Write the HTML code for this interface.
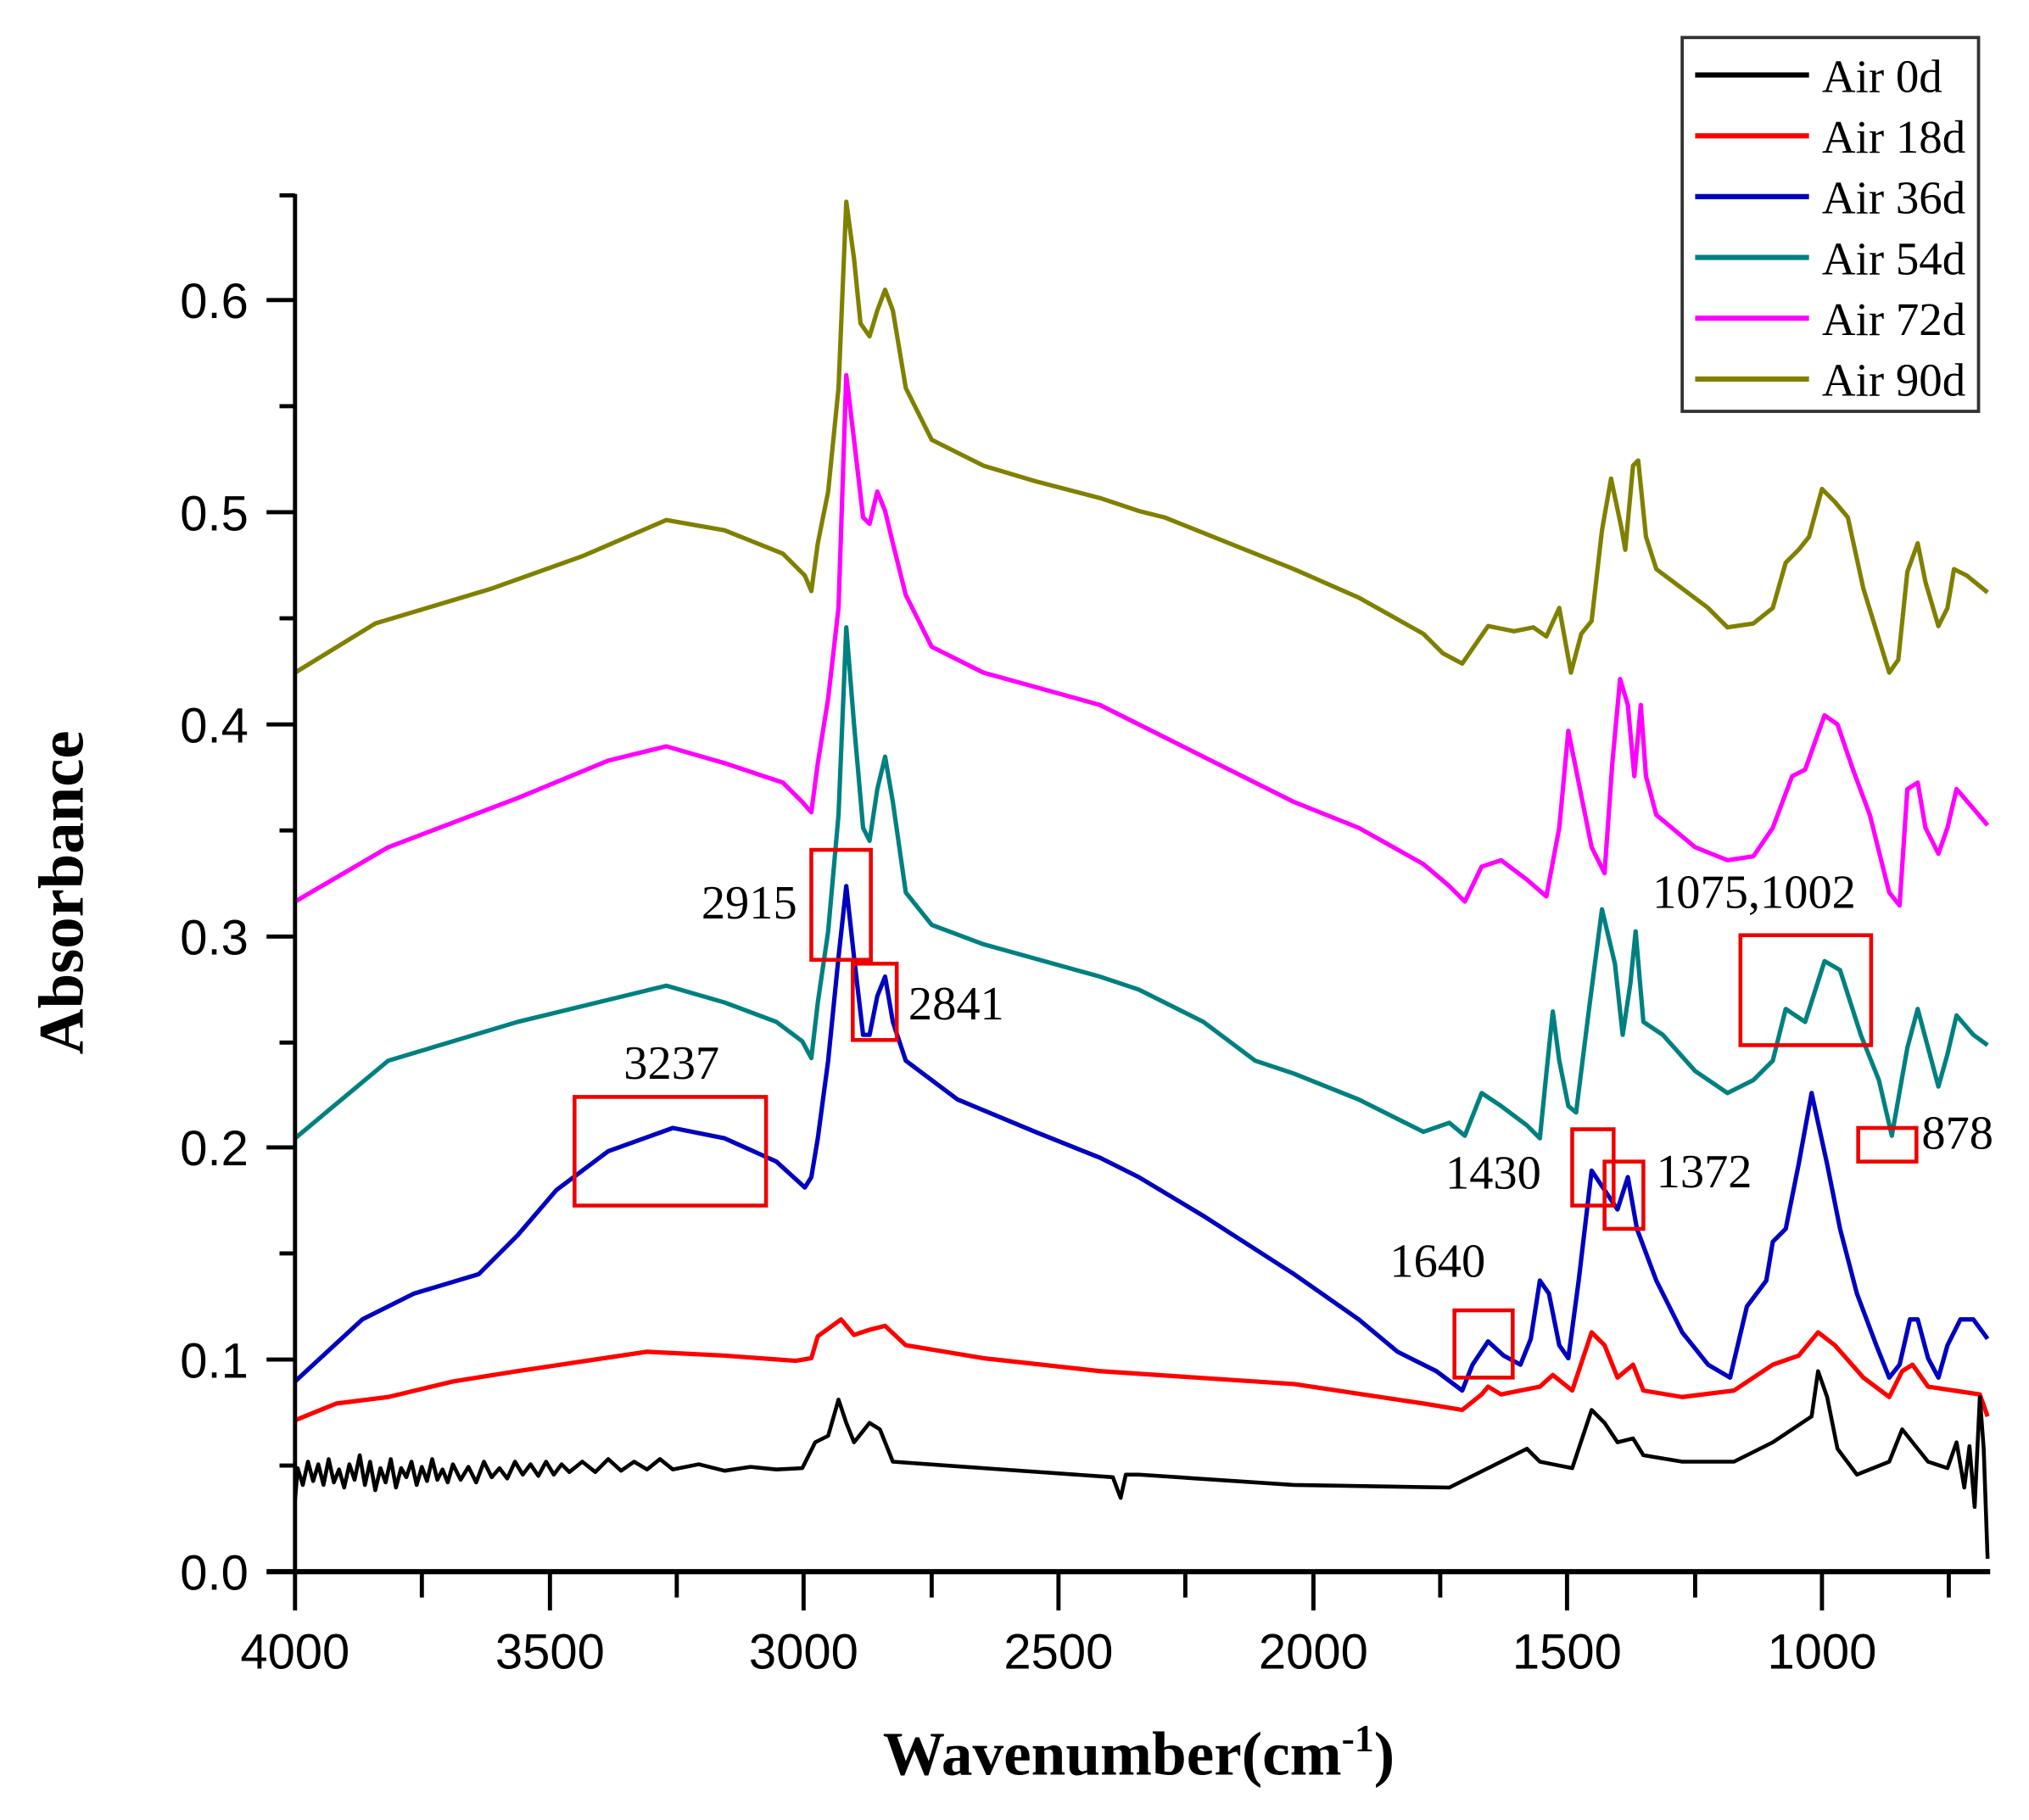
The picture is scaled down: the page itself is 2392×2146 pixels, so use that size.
<!DOCTYPE html>
<html><head><meta charset="utf-8"><style>
html,body{margin:0;padding:0;background:#fff}
svg{display:block}
</style></head><body>
<svg width="2392" height="2146" viewBox="0 0 1568 1407" preserveAspectRatio="none" xmlns="http://www.w3.org/2000/svg">
<rect width="1568" height="1407" fill="#fff"/>
<g fill="none" stroke-width="3.4" stroke-linejoin="round">
<polyline stroke="#808000" points="228,520 290,482 380,455 450,430 515,402 560,410 605,428 622,445 627,457 632,420 640,380 648,300 654,156 660,200 665,250 672,260 678,240 684,224 690,240 700,300 720,340 760,360 800,372 850,385 880,395 900,400 950,420 1000,440 1050,462 1100,490 1115,505 1130,513 1150,484 1170,488 1185,485 1195,492 1205,470 1214,520 1222,490 1230,480 1238,410 1245,370 1253,408 1256,425 1262,360 1266,356 1272,415 1280,440 1300,455 1320,470 1335,485 1355,482 1370,470 1380,435 1390,425 1398,415 1408,378 1418,388 1428,400 1440,455 1460,520 1467,510 1474,442 1482,420 1488,450 1498,484 1505,470 1510,440 1520,445 1536,458"/>
<polyline stroke="#ff00ff" points="228,697 300,655 400,617 470,588 515,577 560,590 605,605 620,620 627,628 632,590 640,540 648,470 654,290 660,340 667,400 672,405 678,380 684,395 690,420 700,460 720,500 760,520 850,545 880,560 930,585 1000,620 1050,640 1100,668 1120,685 1132,697 1145,670 1160,665 1180,680 1195,693 1205,640 1212,565 1220,605 1230,655 1240,675 1246,590 1252,525 1258,545 1263,600 1268,545 1272,600 1280,630 1310,655 1335,665 1355,662 1370,640 1385,600 1395,595 1410,553 1420,560 1432,595 1445,630 1460,690 1468,700 1474,610 1482,605 1488,640 1498,660 1505,640 1512,610 1525,625 1536,638"/>
<polyline stroke="#008080" points="228,880 300,820 400,790 515,762 560,775 600,790 620,805 627,818 632,775 640,720 648,630 654,485 660,560 667,640 672,650 678,610 684,585 690,620 700,690 720,715 760,730 850,755 880,765 930,790 970,820 1000,830 1050,850 1100,875 1120,868 1132,878 1145,845 1160,855 1180,870 1190,880 1195,830 1200,782 1205,820 1212,855 1218,860 1228,780 1238,703 1248,745 1254,800 1260,760 1264,720 1270,790 1285,800 1310,828 1335,845 1355,835 1370,820 1380,780 1395,790 1410,743 1422,750 1438,800 1452,835 1462,878 1474,810 1482,780 1490,810 1498,840 1505,815 1512,785 1525,800 1536,808"/>
<polyline stroke="#0000c0" points="228,1068 280,1020 320,1000 370,985 400,955 430,920 470,890 520,872 560,880 600,898 622,918 627,910 632,880 640,820 648,740 654,685 660,740 667,800 672,800 678,770 684,755 690,790 700,820 740,850 800,875 850,895 880,910 930,940 1000,985 1050,1020 1080,1045 1110,1060 1130,1075 1138,1055 1150,1037 1162,1048 1175,1055 1183,1035 1190,990 1197,1000 1205,1040 1212,1050 1220,990 1230,905 1240,920 1250,935 1258,910 1265,950 1280,990 1300,1030 1320,1055 1337,1065 1350,1010 1365,990 1370,960 1380,950 1390,900 1400,845 1412,900 1422,950 1435,1000 1450,1040 1460,1065 1468,1055 1476,1020 1482,1020 1490,1050 1498,1065 1505,1040 1515,1020 1525,1020 1536,1035"/>
<polyline stroke="#ff0000" points="228,1098 260,1085 300,1080 350,1068 400,1060 500,1045 560,1048 615,1052 627,1050 632,1033 650,1020 660,1032 672,1028 684,1025 700,1040 760,1050 850,1060 1000,1070 1100,1085 1130,1090 1145,1078 1150,1072 1160,1078 1190,1072 1200,1063 1215,1075 1230,1030 1240,1040 1250,1065 1262,1055 1270,1075 1300,1080 1340,1075 1370,1055 1390,1048 1405,1030 1418,1040 1440,1065 1460,1080 1470,1060 1478,1055 1490,1072 1510,1075 1530,1078 1536,1095"/>
<polyline stroke="#000" stroke-width="3" points="228,1160 230,1135 234,1148 238,1130 242,1145 246,1132 250,1148 254,1128 258,1146 262,1136 266,1150 270,1132 274,1144 278,1125 282,1148 286,1130 290,1152 294,1135 298,1146 302,1128 306,1150 310,1135 314,1142 318,1130 322,1148 326,1134 330,1145 334,1128 338,1144 342,1136 346,1146 350,1132 356,1144 362,1134 368,1146 374,1130 380,1142 386,1135 392,1143 398,1130 404,1140 410,1132 416,1141 422,1130 428,1140 434,1132 440,1138 450,1130 460,1138 470,1128 480,1137 490,1130 500,1136 510,1128 520,1136 540,1132 560,1137 580,1134 600,1136 620,1135 630,1115 640,1110 648,1082 654,1100 660,1115 672,1100 680,1105 690,1130 760,1135 860,1142 866,1158 870,1140 880,1140 1000,1148 1120,1150 1150,1135 1170,1125 1180,1120 1190,1130 1200,1132 1215,1135 1230,1090 1240,1100 1250,1115 1262,1112 1270,1125 1300,1130 1340,1130 1370,1115 1385,1105 1400,1095 1405,1060 1412,1080 1420,1120 1435,1140 1460,1130 1470,1105 1478,1115 1490,1130 1505,1135 1512,1115 1518,1150 1522,1118 1526,1165 1530,1080 1533,1120 1536,1205"/>
</g>
<g stroke="#000" stroke-width="3.2" fill="none">
<line x1="228" y1="150" x2="228" y2="1217"/>
<line x1="206" y1="1215" x2="1538" y2="1215" stroke-width="4"/>
<line x1="206" y1="1051" x2="228" y2="1051"/><line x1="216" y1="1133" x2="228" y2="1133"/>
<line x1="206" y1="887" x2="228" y2="887"/><line x1="216" y1="969" x2="228" y2="969"/>
<line x1="206" y1="724" x2="228" y2="724"/><line x1="216" y1="806" x2="228" y2="806"/>
<line x1="206" y1="560" x2="228" y2="560"/><line x1="216" y1="642" x2="228" y2="642"/>
<line x1="206" y1="396" x2="228" y2="396"/><line x1="216" y1="478" x2="228" y2="478"/>
<line x1="206" y1="232" x2="228" y2="232"/><line x1="216" y1="314" x2="228" y2="314"/>
<line x1="216" y1="151" x2="228" y2="151"/>
<line x1="228" y1="1215" x2="228" y2="1245"/><line x1="326" y1="1215" x2="326" y2="1235"/>
<line x1="425" y1="1215" x2="425" y2="1245"/><line x1="523" y1="1215" x2="523" y2="1235"/>
<line x1="621" y1="1215" x2="621" y2="1245"/><line x1="720" y1="1215" x2="720" y2="1235"/>
<line x1="818" y1="1215" x2="818" y2="1245"/><line x1="916" y1="1215" x2="916" y2="1235"/>
<line x1="1015" y1="1215" x2="1015" y2="1245"/><line x1="1113" y1="1215" x2="1113" y2="1235"/>
<line x1="1211" y1="1215" x2="1211" y2="1245"/><line x1="1310" y1="1215" x2="1310" y2="1235"/>
<line x1="1408" y1="1215" x2="1408" y2="1245"/><line x1="1506" y1="1215" x2="1506" y2="1235"/>
</g>
<g font-family="Liberation Sans, sans-serif" font-size="38" fill="#000" text-anchor="end">
<text x="192" y="1229">0.0</text><text x="192" y="1065">0.1</text><text x="192" y="901">0.2</text>
<text x="192" y="738">0.3</text><text x="192" y="574">0.4</text><text x="192" y="410">0.5</text><text x="192" y="246">0.6</text>
</g>
<g font-family="Liberation Sans, sans-serif" font-size="38" fill="#000" text-anchor="middle">
<text x="228" y="1290">4000</text><text x="425" y="1290">3500</text><text x="621" y="1290">3000</text>
<text x="818" y="1290">2500</text><text x="1015" y="1290">2000</text><text x="1211" y="1290">1500</text><text x="1408" y="1290">1000</text>
</g>
<text transform="translate(64,690) rotate(-90)" text-anchor="middle" font-family="Liberation Serif, serif" font-weight="bold" font-size="49">Absorbance</text>
<text x="880" y="1372" text-anchor="middle" font-family="Liberation Serif, serif" font-weight="bold" font-size="48">Wavenumber(cm<tspan dy="-18" font-size="30">-1</tspan><tspan dy="18">)</tspan></text>
<g fill="none" stroke="#e00" stroke-width="3">
<rect x="627" y="657" width="46" height="85"/><rect x="659" y="745" width="34" height="59"/>
<rect x="444" y="848" width="148" height="84"/><rect x="1345" y="723" width="101" height="85"/>
<rect x="1436" y="872" width="45" height="26"/><rect x="1215" y="873" width="32" height="59"/>
<rect x="1240" y="898" width="30" height="52"/><rect x="1124" y="1013" width="45" height="52"/>
</g>
<g font-family="Liberation Serif, serif" font-size="37" fill="#000">
<text x="542" y="710">2915</text><text x="702" y="788">2841</text><text x="482" y="834">3237</text>
<text x="1277" y="702">1075,1002</text><text x="1485" y="888">878</text><text x="1117" y="919">1430</text>
<text x="1280" y="918">1372</text><text x="1074" y="987">1640</text>
</g>
<rect x="1300" y="29" width="229" height="289" fill="#fff" stroke="#333" stroke-width="2.5"/>
<g stroke-width="4">
<line x1="1310" y1="58" x2="1398" y2="58" stroke="#000"/>
<line x1="1310" y1="105" x2="1398" y2="105" stroke="#ff0000"/>
<line x1="1310" y1="152" x2="1398" y2="152" stroke="#0000c0"/>
<line x1="1310" y1="199" x2="1398" y2="199" stroke="#008080"/>
<line x1="1310" y1="246" x2="1398" y2="246" stroke="#ff00ff"/>
<line x1="1310" y1="293" x2="1398" y2="293" stroke="#808000"/>
</g>
<g font-family="Liberation Serif, serif" font-size="36" fill="#000">
<text x="1408" y="71">Air 0d</text><text x="1408" y="118">Air 18d</text><text x="1408" y="165">Air 36d</text>
<text x="1408" y="212">Air 54d</text><text x="1408" y="259">Air 72d</text><text x="1408" y="306">Air 90d</text>
</g>
</svg>
</body></html>
